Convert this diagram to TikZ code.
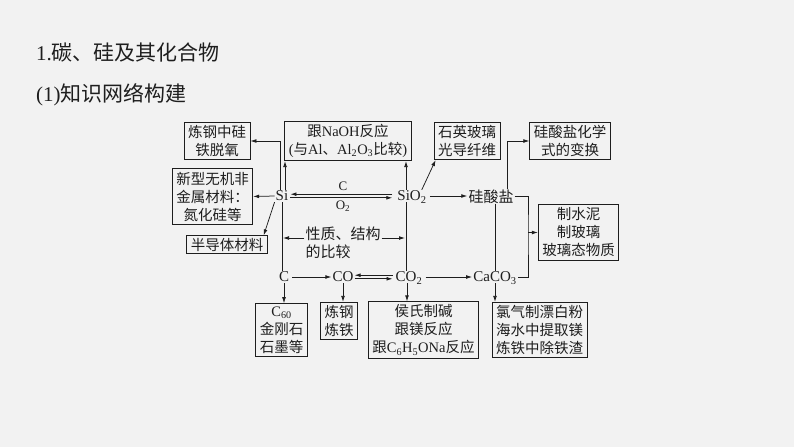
\documentclass[tikz,border=0pt]{standalone}
\usepackage{fontspec}
\setmainfont{Noto Sans CJK SC}
\newfontfamily\tm{Liberation Serif}
\usetikzlibrary{arrows.meta}
\newcommand\sub[1]{\textsubscript{#1}}
\definecolor{bgray}{HTML}{F2F2F2}
\definecolor{ink}{HTML}{1E1E1E}

\begin{document}
\begin{tikzpicture}[x=1pt,y=-1pt,
    every node/.style={text=ink},
    box/.style={draw=ink,line width=0.8pt,inner xsep=4pt,inner ysep=3pt,align=center,font=\fontsize{14.5}{18}\selectfont},
    chem/.style={inner sep=1pt,text depth=0pt,font=\fontsize{15}{18}\selectfont},
    link/.style={draw=ink,line width=0.75pt,>={Latex[length=6pt,width=3.8pt]}}]
  \fill[bgray](0,0)rectangle(794,447);
  \useasboundingbox (0,0) rectangle (794,447);
  % titles
  \node[anchor=west,inner sep=0pt,font=\fontsize{21}{25}\selectfont](t1)at(36,52){{\tm 1.}碳、硅及其化合物};
  \node[anchor=west,inner sep=0pt,font=\fontsize{21}{25}\selectfont](t2)at(36,95){{\tm (1)}知识网络构建};
  % boxes
  \node[box](lg)at(217,141){炼钢中硅\\铁脱氧};
  \node[box](naoh)at(348,141){跟{\tm NaOH}反应\\{\tm (}与{\tm Al}、{\tm Al\sub{2}O\sub{3}}比较{\tm )}};
  \node[box](sy)at(467,141){石英玻璃\\光导纤维};
  \node[box](bh)at(570,141){硅酸盐化学\\式的变换};
  \node[box](xx)at(212.5,196.5){新型无机非\\金属材料：\\氮化硅等};
  \node[box,inner ysep=2pt](bd)at(227,244.5){半导体材料};
  \node[box](zs)at(578.5,232.5){制水泥\\制玻璃\\玻璃态物质};
  \node[box](c60)at(281.5,330){{\tm C\sub{60}}\\金刚石\\石墨等};
  \node[box](lt)at(339,321){炼钢\\炼铁};
  \node[box](hs)at(423.5,330){侯氏制碱\\跟镁反应\\跟{\tm C\sub{6}H\sub{5}ONa}反应};
  \node[box](lq)at(539.5,330){氯气制漂白粉\\海水中提取镁\\炼铁中除铁渣};
  % substances
  \node[chem](si)at(282,196){{\tm Si}};
  \node[chem](sio2)at(412,196){{\tm SiO\sub{2}}};
  \node[chem](gs)at(491,196){硅酸盐};
  \node[chem](c)at(284,277){{\tm C}};
  \node[chem](co)at(343,277){{\tm CO}};
  \node[chem](co2)at(409,277){{\tm CO\sub{2}}};
  \node[chem](caco3)at(495,277){{\tm CaCO\sub{3}}};
  \node[chem,align=left](xz)at(343,242){性质、结构\\的比较};
  \node[chem,font=\fontsize{13}{15}\selectfont](lbc)at(343,186){{\tm C}};
  \node[chem,font=\fontsize{13}{15}\selectfont](lbo)at(343,205){{\tm O\sub{2}}};
  \coordinate(jn)at(528,232.5);
  \coordinate(sv)at([xshift=-6pt]sio2.south);
  % Si, SiO2 and silicates
  \draw[link,->]([xshift=-2pt]si.north)|-(lg.east);
  \draw[link,->]([xshift=3pt]si.north)--([xshift=3pt]si.north|-naoh.south);
  \draw[link,->]([xshift=-6pt]sio2.north)--([xshift=-6pt]sio2.north|-naoh.south);
  \draw[link,->]([xshift=-6pt]sio2.north east)--([xshift=2pt]sy.south west);
  \draw[link,->](si.west)--(xx.east);
  \draw[link,->](si.south west)--([xshift=-4pt]bd.north east);
  \draw[link,->,shorten >=1pt,shorten <=4pt]([yshift=1.8pt]sio2.west)--([yshift=1.8pt]si.east);
  \draw[link,->,shorten <=1pt,shorten >=4pt]([yshift=-1.8pt]si.east)--([yshift=-1.8pt]sio2.west);
  \draw[link,->,shorten <=2pt](sio2.east)--(gs.west);
  \draw[link,->]([xshift=16pt]gs.north)|-(bh.west);
  \draw[link](gs.east)-|(jn)|-(caco3.east);
  \draw[link,->](jn)--(zs.west);
  \draw[link]([xshift=4pt]gs.south)--([xshift=4pt]gs.south|-caco3.north);
  % the two vertical lines and the comparison
  \draw[link](si.south)--(si.south|-c.north);
  \draw[link](sv)--(sv|-co2.north);
  \draw[link,->,shorten >=1pt]([yshift=4pt]xz.west)--([yshift=4pt]xz.west-|si.south);
  \draw[link,->,shorten >=1pt]([yshift=4pt]xz.east)--([yshift=4pt]xz.east-|sv);
  % carbon row
  \draw[link,->,shorten <=2pt](c.east)--(co.west);
  \draw[link,->,shorten <=2pt]([yshift=1.8pt]co2.west)--([yshift=1.8pt]co.east);
  \draw[link,->,shorten >=2pt]([yshift=-1.8pt]co.east)--([yshift=-1.8pt]co2.west);
  \draw[link,->,shorten <=2pt](co2.east)--(caco3.west);
  \draw[link,->](c.south)--(c.south|-c60.north);
  \draw[link,->](co.south)--(co.south|-lt.north);
  \draw[link,->]([xshift=-2pt]co2.south)--([xshift=-2pt]co2.south|-hs.north);
  \draw[link,->](caco3.south)--(caco3.south|-lq.north);
\end{tikzpicture}
\end{document}
